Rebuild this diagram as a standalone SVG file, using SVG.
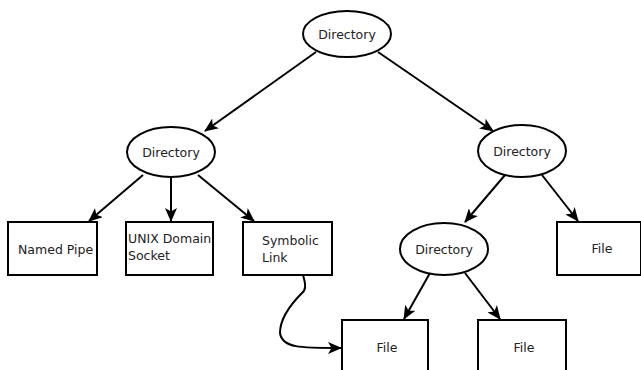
<svg xmlns="http://www.w3.org/2000/svg" width="641" height="370" viewBox="0 0 641 370">
<style>
.n{fill:#fff;stroke:#000;stroke-width:2}
.t{font-family:"DejaVu Sans",sans-serif;font-size:12.5px;fill:#222}
.c{text-anchor:middle}
.e{fill:none;stroke:#000;stroke-width:2;marker-end:url(#a)}
</style>
<defs>
<marker id="a" viewBox="0 0 14 12" refX="13" refY="6" markerWidth="14" markerHeight="12" markerUnits="userSpaceOnUse" orient="auto">
<path d="M0,0 L14,6 L0,12 L3.5,6 Z" fill="#000"/>
</marker>
</defs>
<rect width="641" height="370" fill="#fff"/>
<g id="connectors">
<path class="e" d="M316,52 L205,131"/>
<path class="e" d="M378,52 L493,131"/>
<path class="e" d="M143,175 L89,221"/>
<path class="e" d="M171,177 L171,221"/>
<path class="e" d="M198,175 L254,221"/>
<path class="e" d="M505,175 L465,222"/>
<path class="e" d="M542,175 L578,221"/>
<path class="e" d="M430,273 L404,319"/>
<path class="e" d="M465,273 L500,319"/>
<path class="e" d="M303,275 C306,285 306,290 302,293 C290,305 280,320 280,333 C282,348 300,348 341,348"/>
</g>
<g id="dir-root"><ellipse class="n" cx="347" cy="34" rx="44" ry="23"/><text class="t c" x="347" y="38.5">Directory</text></g>
<g id="dir-left"><ellipse class="n" cx="171" cy="152" rx="44" ry="25"/><text class="t c" x="171" y="156.5">Directory</text></g>
<g id="dir-right"><ellipse class="n" cx="522" cy="151" rx="44" ry="26"/><text class="t c" x="522" y="155.5">Directory</text></g>
<g id="dir-mid"><ellipse class="n" cx="444" cy="249" rx="44" ry="26"/><text class="t c" x="444" y="253.5">Directory</text></g>
<g id="named-pipe"><rect class="n" x="8" y="222" width="89" height="53"/><text class="t" x="18" y="254">Named Pipe</text></g>
<g id="unix-socket"><rect class="n" x="126" y="222" width="87" height="53"/><text class="t" x="128" y="243">UNIX Domain</text><text class="t" x="128" y="260">Socket</text></g>
<g id="symlink"><rect class="n" x="243" y="222" width="89" height="53"/><text class="t" x="262" y="245">Symbolic</text><text class="t" x="262" y="262">Link</text></g>
<g id="file-right"><rect class="n" x="557" y="222" width="84" height="53"/><text class="t c" x="602" y="253">File</text></g>
<g id="file-1"><rect class="n" x="342" y="320" width="86" height="52"/><text class="t c" x="387" y="352">File</text></g>
<g id="file-2"><rect class="n" x="478" y="320" width="88" height="52"/><text class="t c" x="524" y="352">File</text></g>
</svg>
